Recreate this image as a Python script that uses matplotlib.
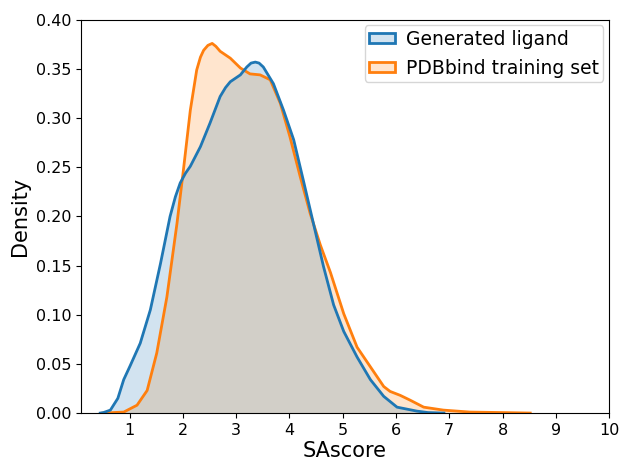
import matplotlib.pyplot as plt
from matplotlib.patches import Patch

# values
gen_x = [0.45, 0.51, 0.64, 0.78, 0.89, 1.01, 1.2, 1.39, 1.58, 1.76, 1.86, 1.95, 2.05, 2.14,
         2.33, 2.51, 2.70, 2.80, 2.89, 3.08, 3.20, 3.28, 3.36, 3.43, 3.51, 3.70, 3.89, 4.08,
         4.26, 4.45, 4.64, 4.83, 5.02, 5.27, 5.52, 5.77, 6.02, 6.39, 6.6, 6.9]
gen_y = [0.0, 0.0005, 0.003, 0.015, 0.034, 0.048, 0.071, 0.105, 0.152, 0.200, 0.220, 0.234,
         0.244, 0.251, 0.271, 0.295, 0.322, 0.331, 0.337, 0.344, 0.352, 0.356, 0.357, 0.356,
         0.352, 0.335, 0.308, 0.278, 0.237, 0.193, 0.149, 0.110, 0.083, 0.057, 0.034, 0.017,
         0.006, 0.002, 0.0005, 0.0]

pdb_x = [0.5, 0.89, 1.14, 1.33, 1.51, 1.70, 1.89, 2.01, 2.14, 2.26, 2.33, 2.39, 2.47, 2.55,
         2.62, 2.70, 2.89, 3.08, 3.26, 3.45, 3.64, 3.83, 4.01, 4.20, 4.39, 4.58, 4.77, 5.02,
         5.27, 5.52, 5.77, 5.89, 6.08, 6.27, 6.52, 6.89, 7.39, 8.0, 8.52]
pdb_y = [0.0, 0.001, 0.008, 0.023, 0.061, 0.118, 0.193, 0.247, 0.308, 0.349, 0.362, 0.369,
         0.374, 0.376, 0.373, 0.368, 0.361, 0.351, 0.345, 0.344, 0.339, 0.315, 0.281, 0.241,
         0.203, 0.171, 0.143, 0.101, 0.067, 0.047, 0.027, 0.022, 0.018, 0.013, 0.006, 0.003,
         0.001, 0.0005, 0.0]

labels = ['Generated ligand', 'PDBbind training set']
blue = '#1f77b4'
orange = '#ff7f0e'
blue_fill = (0.122, 0.467, 0.706, 0.2)
orange_fill = (1.0, 0.498, 0.055, 0.2)

fig, ax = plt.subplots(figsize=(6.19, 4.61), dpi=100)
fig.subplots_adjust(left=0.131, right=0.984, top=0.957, bottom=0.104)

# second set drawn first, so the blue fill sits on top
ax.fill_between(pdb_x, pdb_y, facecolor=orange_fill, linewidth=0)
ax.plot(pdb_x, pdb_y, color=orange, linewidth=2)
ax.fill_between(gen_x, gen_y, facecolor=blue_fill, linewidth=0)
ax.plot(gen_x, gen_y, color=blue, linewidth=2)

ax.set_xlim(0.09, 10)
ax.set_ylim(0, 0.40)
ax.set_xticks(range(1, 11))
ax.set_yticks([0, 0.05, 0.10, 0.15, 0.20, 0.25, 0.30, 0.35, 0.40])
ax.yaxis.set_major_formatter(plt.FormatStrFormatter('%.2f'))
ax.tick_params(labelsize=11.5)
ax.set_xlabel('SAscore', fontsize=15, labelpad=2)
ax.set_ylabel('Density', fontsize=15)

handles = [Patch(facecolor=blue_fill, edgecolor=blue, linewidth=2),
           Patch(facecolor=orange_fill, edgecolor=orange, linewidth=2)]
ax.legend(handles, labels, loc='upper right', fontsize=13.5, handlelength=1.4,
          handleheight=0.45, handletextpad=0.55, borderpad=0.25, borderaxespad=0.3)

plt.savefig('out.png')
